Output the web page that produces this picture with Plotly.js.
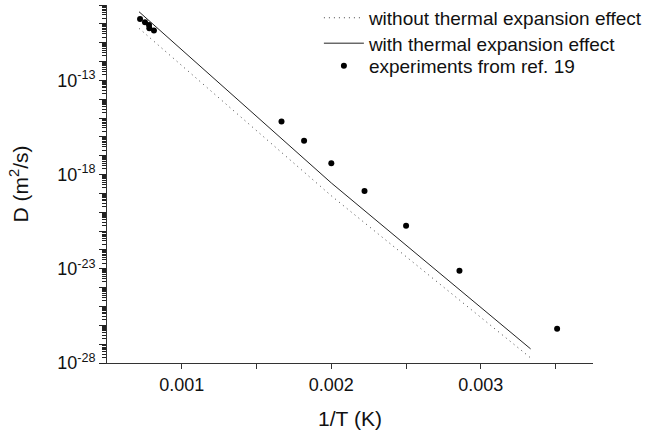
<!DOCTYPE html>
<html>
<head>
<meta charset="utf-8">
<script src="https://cdn.plot.ly/plotly-3.0.1.min.js"></script>
<style>html,body{margin:0;padding:0;background:#fff;}#chart{width:647px;height:434px;}</style>
</head>
<body>
<div id="chart"></div>
<script>
// Model lines (1/T in 1/K, D in m^2/s)
const lineX = [0.000714, 0.002, 0.003333];
const withoutExpY = [5.8e-11, 7.5e-20, 1.86e-28];
const withExpY = [4.4e-10, 3.6e-19, 5.6e-28];

// Experiments from ref. 19
const expX = [0.000721, 0.000754, 0.000781, 0.000783, 0.000814, 0.001667, 0.001818, 0.002, 0.002222, 0.0025, 0.002857, 0.00351];
const expY = [1.8e-10, 1.2e-10, 8.7e-11, 5.8e-11, 4.5e-11, 6.5e-16, 6.3e-17, 4.0e-18, 1.35e-19, 1.95e-21, 7.9e-24, 6.5e-27];

// Axis tick labels
const yDecades = [-28,-27,-26,-25,-24,-23,-22,-21,-20,-19,-18,-17,-16,-15,-14,-13,-12,-11,-10,-9];
const yLabelled = [-28, -23, -18, -13];
const xTickVals = [0.001, 0.002, 0.003];
const xTickText = ['0.001', '0.002', '0.003'];

const yTickVals = yDecades.map(d => Math.pow(10, d));
const yTickText = yDecades.map(d => yLabelled.includes(d) ? '10<sup>' + d + '</sup>' : '');
const yMinorVals = [];
yDecades.forEach(d => { if (d < -9) { for (let k = 2; k <= 9; k++) yMinorVals.push(k * Math.pow(10, d)); } });

const traces = [
  {x: lineX, y: withoutExpY, mode: 'lines', name: 'without thermal expansion effect',
   line: {color: '#444', width: 1, dash: '1px,4px'}, legend: 'legend'},
  {x: lineX, y: withExpY, mode: 'lines', name: 'with thermal expansion effect',
   line: {color: '#222', width: 1}, legend: 'legend2'},
  {x: expX, y: expY, mode: 'markers', name: 'experiments from ref. 19',
   marker: {color: '#000', size: 6}, legend: 'legend3'}
];

const fam = '"Liberation Sans", Arial, sans-serif';
const font = {family: fam, size: 18, color: '#111'};
const legBase = {x: 0.436, xanchor: 'left', yanchor: 'top', bgcolor: 'rgba(0,0,0,0)',
                 font: {family: fam, size: 19, color: '#111'}, itemwidth: 40};

const layout = {
  width: 647, height: 434,
  margin: {l: 107, r: 54, t: 5, b: 71, autoexpand: false},
  paper_bgcolor: '#fff', plot_bgcolor: '#fff',
  font: font,
  showlegend: true,
  legend: Object.assign({}, legBase, {y: 1.017}),
  legend2: Object.assign({}, legBase, {y: 0.946}),
  legend3: Object.assign({}, legBase, {y: 0.883}),
  xaxis: {
    range: [0.0005, 0.00375], showgrid: false, zeroline: false,
    showline: true, linecolor: '#333', linewidth: 1,
    tickmode: 'array', tickvals: xTickVals, ticktext: xTickText,
    ticks: 'outside', ticklen: 5, tickcolor: '#333',
    minor: {tickmode: 'array', tickvals: [0.0015, 0.0025, 0.0035], ticks: 'outside', ticklen: 5, tickcolor: '#333'},
    tickfont: {family: fam, size: 18, color: '#111'},
    title: {text: '1/T (K)', font: {family: fam, size: 21, color: '#111'}, standoff: 17}
  },
  yaxis: {
    type: 'log', range: [-28, -9], showgrid: false, zeroline: false,
    showline: true, linecolor: '#333', linewidth: 1,
    tickmode: 'array', tickvals: yTickVals, ticktext: yTickText,
    ticks: 'outside', ticklen: 7, tickcolor: '#222',
    minor: {tickmode: 'array', tickvals: yMinorVals, ticks: 'outside', ticklen: 4, tickcolor: '#222'},
    tickfont: {family: fam, size: 18, color: '#111'},
    title: {text: 'D (m<sup>2</sup>/s)', font: {family: fam, size: 21, color: '#111'}, standoff: 22}
  }
};

Plotly.newPlot('chart', traces, layout, {displayModeBar: false, staticPlot: true});
</script>
</body>
</html>
